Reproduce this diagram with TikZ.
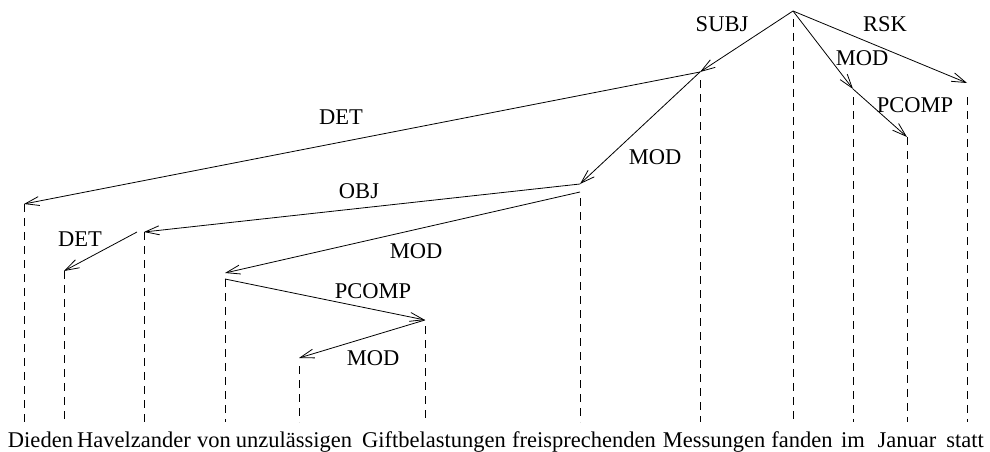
\documentclass[tikz,border=0pt]{standalone}
\usepackage{fontspec}
\setmainfont{Liberation Serif}
\usetikzlibrary{arrows.meta}

\begin{document}
\begin{tikzpicture}[
  x=1pt,y=-1pt,
  dep/.style={-{Straight Barb[length=14pt,width=9pt]},line width=0.8pt},
  drop/.style={line width=0.8pt,dash pattern=on 8pt off 6pt},
  word/.style={inner sep=0pt,anchor=base,font=\fontsize{22.5}{27}\selectfont},
  lbl/.style={inner sep=0pt,font=\fontsize{22.5}{27}\selectfont}
]
  \useasboundingbox (0,0) rectangle (990,452);

  % tree points
  \coordinate (fanden) at (793,11);
  \coordinate (messungen) at (700,72);
  \coordinate (im) at (853,89);
  \coordinate (statt) at (967,83);
  \coordinate (januar) at (907,137);
  \coordinate (freisp) at (580,184);
  \coordinate (die) at (24,204);
  \coordinate (havel) at (144,232);
  \coordinate (den) at (64,271);
  \coordinate (von) at (225,273);
  \coordinate (gift) at (425,320);
  \coordinate (unzul) at (299,358);
  \coordinate (base) at (0,422);

  % words
  \node[word] (wdie) at (24,447) {Die};
  \node[word,anchor=base west] (wden) at (wdie.base east) {den};
  \node[word] (whavel) at (134,447) {Havelzander};
  \node[word] (wvon) at (214,447) {von};
  \node[word] (wunzul) at (294,447) {unzulässigen};
  \node[word] (wgift) at (434,447) {Giftbelastungen};
  \node[word] (wfreisp) at (584,447) {freisprechenden};
  \node[word] (wmessungen) at (714,447) {Messungen};
  \node[word] (wfanden) at (802,447) {fanden};
  \node[word] (wim) at (853,447) {im};
  \node[word] (wjanuar) at (907,447) {Januar};
  \node[word] (wstatt) at (965,447) {statt};

  % projection lines
  \draw[drop] (fanden) ++(0,8) -- (fanden |- base);
  \draw[drop] (messungen) ++(0,8) -- (messungen |- base);
  \draw[drop] (im) ++(0,8) -- (im |- base);
  \draw[drop] (statt) ++(0,14) -- (statt |- base);
  \draw[drop] (januar) -- (januar |- base);
  \draw[drop] (freisp) ++(0,14) -- (freisp |- base);
  \draw[drop] (die) -- (die |- base);
  \draw[drop] (havel) -- (havel |- base);
  \draw[drop] (den) -- (den |- base);
  \draw[drop] (von) ++(0,6) -- (von |- base);
  \draw[drop] (gift) ++(0,6) -- (gift |- base);
  \draw[drop] (unzul) ++(0,8) -- (unzul |- base);

  % dependencies
  \draw[dep] (fanden) -- (messungen);
  \draw[dep] (fanden) -- (im);
  \draw[dep] (fanden) -- (statt);
  \draw[dep] (im) -- (januar);
  \draw[dep] (messungen) -- (die);
  \draw[dep] (messungen) -- (freisp);
  \draw[dep] (freisp) -- (havel);
  \draw[dep] (freisp) ++(0,8) -- (von);
  \draw[dep] (havel) ++(-7,0) -- (den);
  \draw[dep] (von) ++(0,6) -- (gift);
  \draw[dep] (gift) -- (unzul);

  % labels
  \node[lbl] (lsubj) at (722,24) {SUBJ};
  \node[lbl] (lrsk) at (885,24) {RSK};
  \node[lbl] (lmodim) at (862,58) {MOD};
  \node[lbl] (lpcompjan) at (915,105) {PCOMP};
  \node[lbl] (ldetdie) at (341,117) {DET};
  \node[lbl] (lmodfrei) at (655,157) {MOD};
  \node[lbl] (lobj) at (359,191) {OBJ};
  \node[lbl] (ldetden) at (80,239) {DET};
  \node[lbl] (lmodvon) at (416,251) {MOD};
  \node[lbl] (lpcompgift) at (373,291) {PCOMP};
  \node[lbl] (lmodunz) at (373,358) {MOD};
\end{tikzpicture}
\end{document}
